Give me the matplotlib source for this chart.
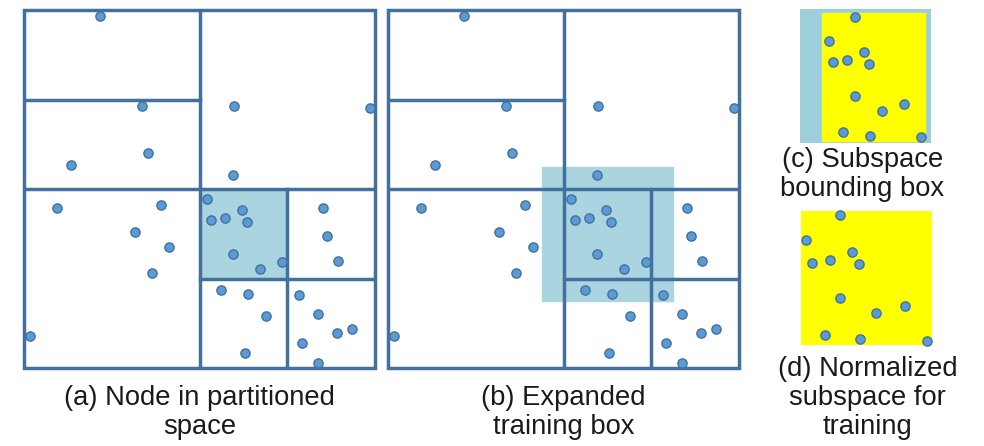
import numpy as np
import matplotlib
matplotlib.use("Agg")
import matplotlib.pyplot as plt
from matplotlib.patches import Rectangle

# point cloud in the unit space (0..100 on both axes)
pts_x = [21.7, 33.6, 59.8, 98.6, 35.3, 13.4, 59.5, 52.1, 9.4, 39.0, 62.1, 53.3,
         57.3, 63.5, 85.2, 31.6, 86.3, 41.3, 59.5, 73.5, 67.2, 89.5, 36.5, 56.1,
         63.8, 78.3, 83.8, 68.9, 93.4, 89.2, 1.7, 79.2, 63.0, 83.8]
pts_y = [98.3, 73.2, 73.2, 72.6, 60.1, 56.7, 53.9, 47.2, 44.7, 45.5, 44.1, 41.3,
         41.9, 40.8, 44.7, 38.0, 36.9, 33.8, 31.8, 29.6, 27.7, 29.9, 26.5, 21.8,
         20.7, 20.4, 15.1, 14.5, 10.9, 9.8, 8.9, 7.0, 4.2, 1.4]

# kd-tree splits: (orientation, position, start, end)
splits = [("v", 50, 0, 100), ("h", 75, 0, 50), ("h", 50, 0, 100),
          ("v", 75, 0, 50), ("h", 25, 50, 100)]
node = (50, 75, 25, 50)  # x0, x1, y0, y1
expand = 0.25

labels = ["(a) Node in partitioned\nspace",
          "(b) Expanded\ntraining box",
          "(c) Subspace\nbounding box",
          "(d) Normalized\nsubspace for\ntraining"]

LINE = "#41719C"
DOT = "#5B9BD5"
SHADE = "#AAD4E0"
SHADE_C = "#9DCEDC"
YELLOW = "#FFFF00"

W, H = 984, 446
fig = plt.figure(figsize=(W / 100, H / 100), dpi=100)
plt.rcParams["font.family"] = ["Liberation Sans", "DejaVu Sans"]


def add_ax(x0, y0, x1, y1):
    # pixel box (top-left origin) -> axes
    ax = fig.add_axes([x0 / W, 1 - y1 / H, (x1 - x0) / W, (y1 - y0) / H])
    ax.set_axis_off()
    return ax


def draw_dots(ax, xs, ys):
    ax.scatter(xs, ys, s=44, color=DOT, edgecolor=LINE, linewidth=1.0,
               zorder=5, clip_on=False)


def draw_partition(ax):
    ax.set_xlim(0, 100)
    ax.set_ylim(0, 100)
    ax.add_patch(Rectangle((0, 0), 100, 100, fill=False, edgecolor=LINE,
                           linewidth=2.5, zorder=3, clip_on=False))
    for o, p, a, b in splits:
        if o == "v":
            ax.plot([p, p], [a, b], color=LINE, lw=2.5, zorder=3,
                    solid_capstyle="projecting")
        else:
            ax.plot([a, b], [p, p], color=LINE, lw=2.5, zorder=3,
                    solid_capstyle="projecting")


nx0, nx1, ny0, ny1 = node
dx = (nx1 - nx0) * expand
dy = (ny1 - ny0) * expand
ex0, ex1, ey0, ey1 = nx0 - dx, nx1 + dx, ny0 - dy, ny1 + dy

# (a)
ax_a = add_ax(24, 10, 375, 368)
draw_partition(ax_a)
ax_a.add_patch(Rectangle((nx0, ny0), nx1 - nx0, ny1 - ny0, color=SHADE, zorder=1))
draw_dots(ax_a, pts_x, pts_y)

# (b)
ax_b = add_ax(388, 10, 739, 368)
draw_partition(ax_b)
ax_b.add_patch(Rectangle((ex0, ey0), ex1 - ex0, ey1 - ey0, color=SHADE, zorder=1))
draw_dots(ax_b, pts_x, pts_y)

# points inside the training box
px = np.array(pts_x)
py = np.array(pts_y)
inside = (px >= ex0) & (px <= ex1) & (py >= ey0) & (py <= ey1)
pad = 1.2
bx0, bx1 = px[inside].min() - pad, px[inside].max() + pad
by0, by1 = py[inside].min() - pad, py[inside].max() + pad

# (c) subspace bounding box = node joined with the padded point extent
cx0, cx1 = min(nx0, bx0), max(nx1, bx1)
cy0, cy1 = min(ny0, by0), max(ny1, by1)
ax_c = add_ax(800, 9, 931, 143)
ax_c.set_xlim(ex0, ex1)
ax_c.set_ylim(ey0, ey1)
ax_c.add_patch(Rectangle((ex0, ey0), ex1 - ex0, ey1 - ey0, color=SHADE_C, zorder=0))
ax_c.add_patch(Rectangle((cx0, cy0), cx1 - cx0, cy1 - cy0, color=YELLOW, zorder=1))
draw_dots(ax_c, px[inside], py[inside])

# (d)
ax_d = add_ax(801, 211, 932, 345)
ax_d.set_xlim(bx0, bx1)
ax_d.set_ylim(by0, by1)
ax_d.add_patch(Rectangle((bx0, by0), bx1 - bx0, by1 - by0, color=YELLOW, zorder=1))
draw_dots(ax_d, px[inside], py[inside])

# captions (x centre, last-line baseline in pixels)
label_pos = [(199.5, 434), (563.5, 434), (862.5, 196), (867.5, 434)]
for txt, (lx, ly) in zip(labels, label_pos):
    fig.text(lx / W, 1 - ly / H, txt, ha="center", va="baseline",
             fontsize=19.7, color="#1a1a1a", multialignment="center",
             linespacing=1.15)

fig.savefig("out.png", dpi=100)
